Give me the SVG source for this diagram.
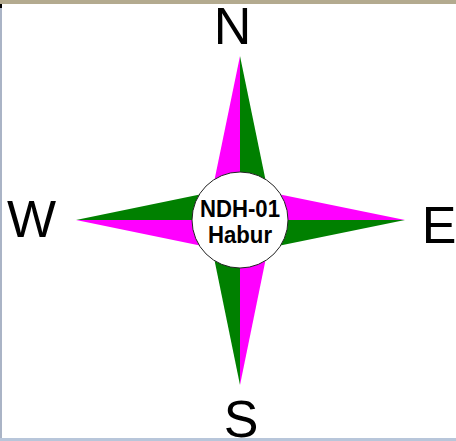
<svg xmlns="http://www.w3.org/2000/svg" width="456" height="441" viewBox="0 0 456 441">
  <style>
    .mag { fill: #ff00ff; }
    .grn { fill: #008000; }
    .dir { font-family: "Liberation Sans", Arial, sans-serif; font-size: 52px; fill: #000; text-anchor: middle; }
    .lbl { font-family: "Liberation Sans", Arial, sans-serif; font-size: 23px; font-weight: bold; fill: #000; text-anchor: middle; }
  </style>
  <rect x="0" y="0" width="456" height="441" fill="#ffffff"/>
  <rect x="0" y="0" width="456" height="4" fill="#b3aa8f"/>
  <rect x="0" y="4" width="2" height="434" fill="#aab4c6"/>
  <rect x="0" y="4" width="2" height="4" fill="#000000"/>
  <rect x="0" y="438" width="456" height="3" fill="#b8c6da"/>
  <g id="star">
    <polygon class="mag" points="240,220 240,56 212,192"/>
    <polygon class="grn" points="240,220 240,56 268,192"/>
    <polygon class="mag" points="240,220 405,220 268,192"/>
    <polygon class="grn" points="240,220 405,220 268,248"/>
    <polygon class="mag" points="240,220 240,385 268,248"/>
    <polygon class="grn" points="240,220 240,385 212,248"/>
    <polygon class="mag" points="240,220 76,220 212,248"/>
    <polygon class="grn" points="240,220 76,220 212,192"/>
  </g>
  <g id="center">
    <circle cx="240" cy="220" r="48" fill="#ffffff" stroke="#222" stroke-width="1"/>
    <text class="lbl" x="240" y="217" textLength="80" lengthAdjust="spacingAndGlyphs">NDH-01</text>
    <text class="lbl" x="240" y="243" textLength="64" lengthAdjust="spacingAndGlyphs">Habur</text>
  </g>
  <g id="labels">
    <text class="dir" x="232.5" y="44">N</text>
    <text class="dir" x="439" y="243">E</text>
    <text class="dir" x="241" y="437">S</text>
    <text class="dir" x="31.5" y="237">W</text>
  </g>
</svg>
